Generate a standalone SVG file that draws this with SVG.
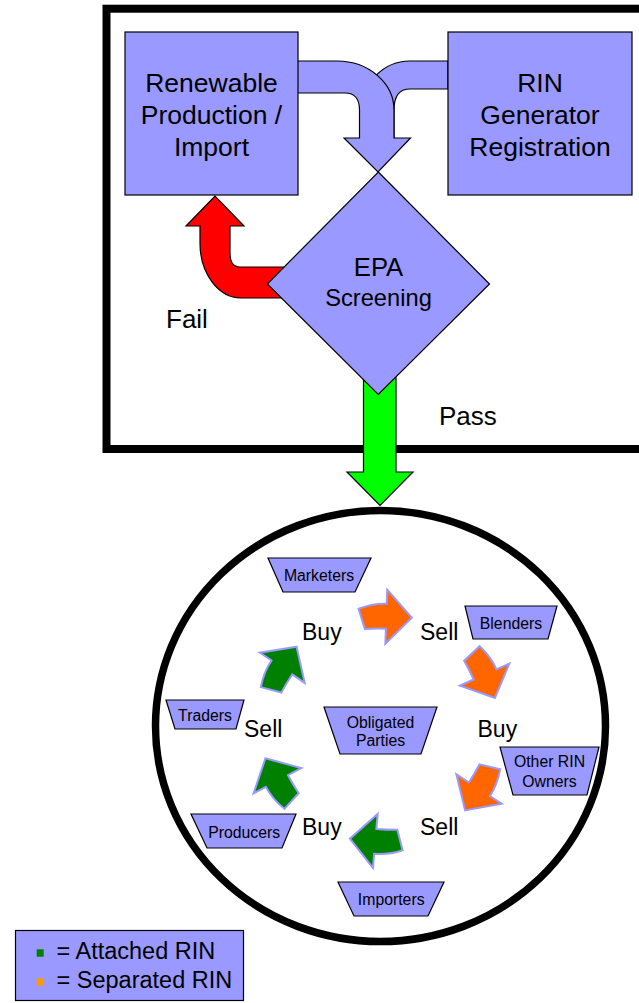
<svg xmlns="http://www.w3.org/2000/svg" width="639" height="1003" viewBox="0 0 639 1003">
<style>
.t{font-family:"Liberation Sans",Arial,sans-serif;fill:#000;text-anchor:middle}
.big{font-size:26.5px}
.lbl{font-size:26px;text-anchor:start}
.bs{font-size:23px;text-anchor:start}
.sm{font-size:15.8px}
.lg{font-size:23.5px;text-anchor:start}
.blue{fill:#9999FF;stroke:#000;stroke-width:1.2}
.sa{stroke:#9999FF;stroke-width:2;stroke-linejoin:miter}
.or{fill:#FF6600}
.gr{fill:#008000}
</style>
<defs>
<path id="ca" d="M25.5,0 L0,-27 L0,-13 Q-14,-13 -28,-7 L-21,13 Q-10,12 0,12 L0,27 Z"/>
</defs>
<rect x="106.5" y="8.7" width="540" height="440.3" fill="none" stroke="#000" stroke-width="8"/>
<g id="connectors">
<path class="blue" d="M448,61 L410,61 A48,49 0 0 0 362,110 L362,138 L394,138 L394,110 Q394,89 410,89 L448,89 Z"/>
<path class="blue" d="M290,61 L337,61 A57,49 0 0 1 394,110 L394,138 L410.5,138 L378,172 L344,138 L359.5,138 L359.5,110 Q359.5,93 345,93 L290,93 Z"/>
<path d="M300,267 L240,267 Q230,267 230,253 L230,226 L244,226 L215,196 L186,226 L200,226 L200,243 A41,55 0 0 0 241,298 L300,298 Z" fill="#FF0000" stroke="#000" stroke-width="1.2"/>
<path d="M363.5,370 L396,370 L396,472 L413,472 L380,505.5 L347,472 L363.5,472 Z" fill="#00FF00" stroke="#000" stroke-width="1.2"/>
<g id="cycle-arrows" class="sa">
<use href="#ca" class="or" transform="translate(386.3,616.7) rotate(2)"/>
<use href="#ca" class="or" transform="translate(484.6,674.6) rotate(66)"/>
<use href="#ca" class="or" transform="translate(479,789) rotate(123)"/>
<use href="#ca" class="gr" transform="translate(375.3,840.9) rotate(185)"/>
<use href="#ca" class="gr" transform="translate(277.4,780.8) rotate(242)"/>
<use href="#ca" class="gr" transform="translate(282.3,667.8) rotate(304)"/>
</g>
</g>
<g id="renewable">
<rect class="blue" x="125" y="32" width="173" height="163"/>
<text class="t big" x="211.5" y="92">Renewable</text>
<text class="t big" x="211.5" y="124">Production /</text>
<text class="t big" x="211.5" y="156">Import</text>
</g>
<g id="rin-registration">
<rect class="blue" x="448" y="32" width="184" height="163"/>
<text class="t big" x="540" y="92">RIN</text>
<text class="t big" x="540" y="124">Generator</text>
<text class="t big" x="540" y="156">Registration</text>
</g>
<g id="epa">
<path class="blue" d="M378.3,172 L489.5,284 L378.3,394.5 L267.3,284 Z"/>
<text class="t" x="378.5" y="275.7" font-size="25.7px">EPA</text>
<text class="t" x="378.5" y="305.7" font-size="23.7px">Screening</text>
</g>
<g id="fail"><text class="t lbl" x="166" y="328">Fail</text></g>
<g id="pass"><text class="t lbl" x="439" y="425">Pass</text></g>
<g id="market">
<ellipse cx="380.5" cy="726" rx="225" ry="215.5" fill="none" stroke="#000" stroke-width="7.5"/>
</g>
<g id="marketers">
<path class="blue" d="M268,558 L371,558 L355,592 L283,592 Z"/>
<text class="t sm" x="319" y="581">Marketers</text>
</g>
<g id="blenders">
<path class="blue" d="M465,606 L557,606 L548,639 L473,639 Z"/>
<text class="t sm" x="511" y="629">Blenders</text>
</g>
<g id="traders">
<path class="blue" d="M166,700 L244,700 L236,729 L175,729 Z"/>
<text class="t sm" x="205" y="721">Traders</text>
</g>
<g id="obligated">
<path class="blue" d="M324,707 L437,707 L421,754 L340,754 Z"/>
<text class="t sm" x="380.5" y="728">Obligated</text>
<text class="t sm" x="380.5" y="746">Parties</text>
</g>
<g id="other-owners">
<path class="blue" d="M500,747 L599,747 L587,795 L513,795 Z"/>
<text class="t sm" x="549.5" y="767">Other RIN</text>
<text class="t sm" x="549.5" y="786.5">Owners</text>
</g>
<g id="producers">
<path class="blue" d="M191,814 L296,814 L282,848 L207,848 Z"/>
<text class="t sm" x="244.2" y="838">Producers</text>
</g>
<g id="importers">
<path class="blue" d="M338,882 L444,882 L428,916 L354,916 Z"/>
<text class="t sm" x="391.2" y="905">Importers</text>
</g>
<g id="trade-labels">
<text class="t bs" x="302" y="640">Buy</text>
<text class="t bs" x="420" y="640">Sell</text>
<text class="t bs" x="477.5" y="737">Buy</text>
<text class="t bs" x="244" y="737">Sell</text>
<text class="t bs" x="302" y="835">Buy</text>
<text class="t bs" x="420" y="835">Sell</text>
</g>
<g id="legend">
<rect class="blue" x="15.5" y="930.5" width="228" height="70"/>
<rect x="36.7" y="949.3" width="7" height="7.4" fill="#008000"/>
<rect x="36.7" y="978.3" width="7" height="7.4" fill="#FF9900"/>
<text class="t lg" x="56.5" y="959">= Attached RIN</text>
<text class="t lg" x="56.5" y="988">= Separated RIN</text>
</g>
</svg>
